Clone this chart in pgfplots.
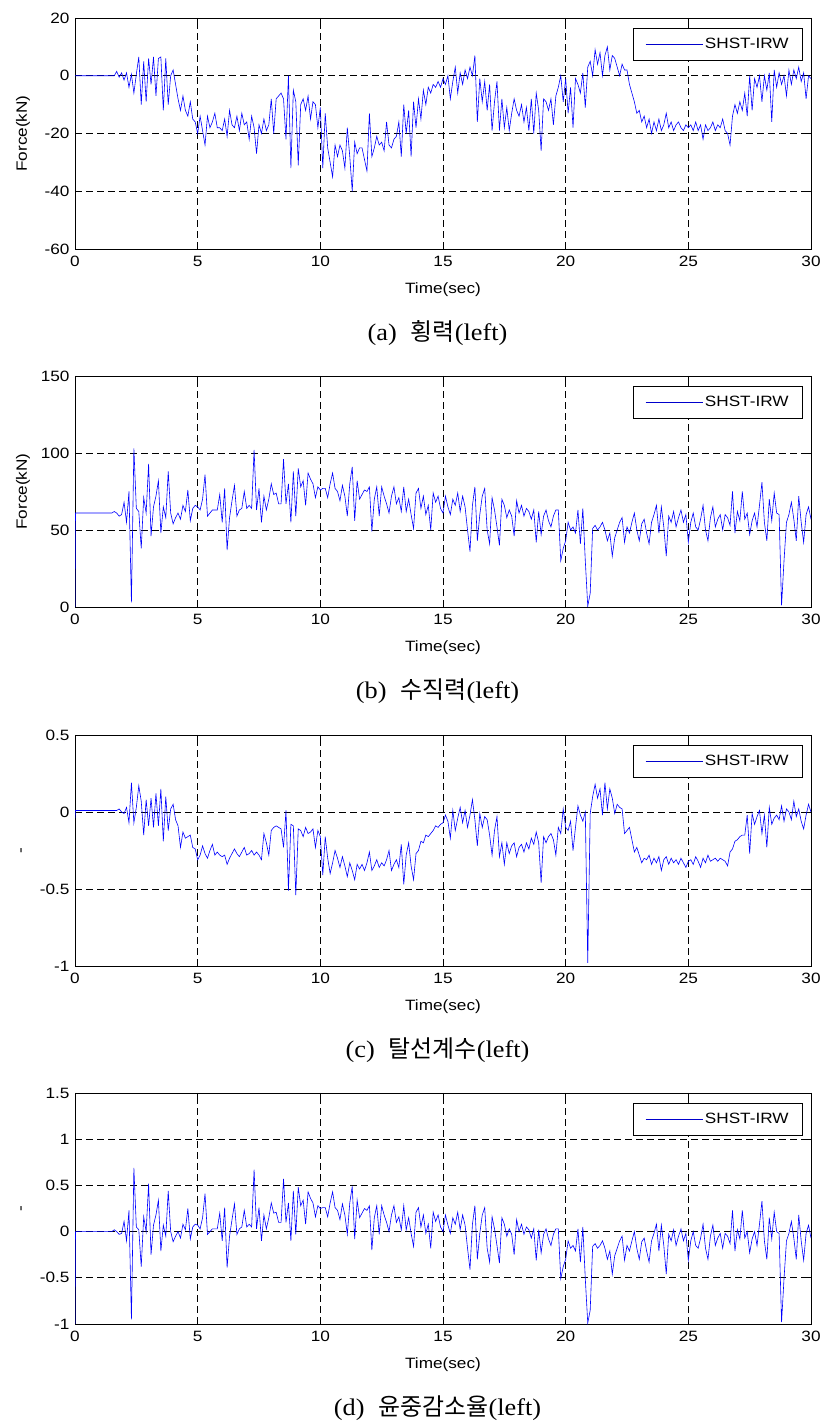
\documentclass[border=0pt]{standalone}
\usepackage{fontspec}
\setmainfont{Liberation Sans}[FakeStretch=1.15]
\newfontfamily\capserif{Liberation Serif}[FakeStretch=1.1]
\newfontfamily\kr{Noto Sans CJK KR}
\usepackage{pgfplots}
\usepackage{pgfplotstable}
\pgfplotsset{compat=1.18}

\pgfplotstableread{
t a b c d
0 0 0 -0.04 -1
0.02 0 61 0.01 0
0.1 0 61 0.01 0
0.2 0 61 0.01 0
0.3 0 61 0.01 0
0.4 0 61 0.01 0
0.5 0 61 0.01 0
0.6 0 61 0.01 0
0.7 0 61 0.01 0
0.8 0 61 0.01 0
0.9 0 61 0.01 0
1.0 0 61 0.01 0
1.1 0 61 0.01 0
1.2 0 61 0.01 0
1.3 0 61 0.01 0
1.4 0 61 0.01 0
1.5 0 61 0.01 0
1.6 0 62 0.01 0.02
1.7 1.5 61 0.01 0
1.8 -0.5 59 0.02 -0.03
1.9 1 60 0 -0.02
2.0 -1.5 68 -0.01 0.11
2.1 1 55 0.03 -0.1
2.2 -4 75 -0.07 0.23
2.3 0.5 3 0.19 -0.95
2.4 -6 103 -0.07 0.69
2.5 0.5 64 0.03 0.05
2.6 6.5 62 0.17 0.02
2.7 -10 38 0.07 -0.38
2.8 5 71 -0.15 0.16
2.9 -9 61 0.08 0
3.0 6 93 -0.09 0.52
3.1 -3 46 0.09 -0.25
3.2 6.5 65 -0.1 0.07
3.3 -7 72 0.12 0.18
3.4 6 82 -0.09 0.34
3.5 6.5 48 0.15 -0.21
3.6 -12 65 -0.19 0.07
3.7 6 58 0.1 -0.05
3.8 -10 88 -0.12 0.44
3.9 0 61 0.02 0
4.0 2 54 0.05 -0.11
4.1 -3 58 -0.05 -0.05
4.2 -8 61 -0.09 0
4.3 -12 57 -0.23 -0.07
4.4 -7 66 -0.13 0.08
4.5 -12 62 -0.17 0.02
4.6 -14 76 -0.16 0.25
4.7 -9 56 -0.15 -0.08
4.8 -15 64 -0.23 0.05
4.9 -16 66 -0.24 0.08
5.0 -20 65 -0.31 0.07
5.1 -14 63 -0.28 0.03
5.2 -19 70 -0.22 0.15
5.3 -24 86 -0.27 0.41
5.4 -14 59 -0.3 -0.03
5.5 -18 61 -0.25 0
5.6 -16 63 -0.21 0.03
5.7 -13 63 -0.28 0.03
5.8 -18 63 -0.26 0.03
5.9 -18 73 -0.28 0.2
6.0 -19 55 -0.29 -0.1
6.1 -15 77 -0.28 0.26
6.2 -21 37 -0.34 -0.39
6.3 -12 58 -0.3 -0.05
6.4 -17 69 -0.27 0.13
6.5 -18 79 -0.24 0.3
6.6 -14 59 -0.27 -0.03
6.7 -19 63 -0.29 0.03
6.8 -13 64 -0.26 0.05
6.9 -17 75 -0.23 0.23
7.0 -16 64 -0.28 0.05
7.1 -22 66 -0.27 0.08
7.2 -14 64 -0.25 0.05
7.3 -18 102 -0.28 0.67
7.4 -27 63 -0.26 0.03
7.5 -17 77 -0.28 0.26
7.6 -20 55 -0.31 -0.1
7.7 -15 72 -0.14 0.18
7.8 -19 63 -0.2 0.03
7.9 -17 70 -0.28 0.15
8.0 -8 80 -0.12 0.31
8.1 -20 73 -0.1 0.2
8.2 -8 74 -0.09 0.21
8.3 -7 67 -0.1 0.1
8.4 -6 67 -0.11 0.1
8.5 -8 96 -0.23 0.57
8.6 -22 67 0.01 0.1
8.7 0 80 -0.51 0.31
8.8 -32 55 -0.08 -0.1
8.9 -5 88 -0.09 0.44
9.0 -9 59 -0.54 -0.03
9.1 -31 90 -0.11 0.48
9.2 -10 78 -0.12 0.28
9.3 -8 82 -0.16 0.34
9.4 -12 66 -0.1 0.08
9.5 -7 87 -0.14 0.43
9.6 -15 83 -0.13 0.36
9.7 -9 80 -0.11 0.31
9.8 -10 71 -0.23 0.16
9.9 -18 78 -0.12 0.28
10.0 -11 76 -0.16 0.25
10.1 -32 77 -0.41 0.26
10.2 -13 77 -0.16 0.26
10.3 -25 71 -0.3 0.16
10.4 -30 80 -0.4 0.31
10.5 -35 87 -0.33 0.43
10.6 -24 77 -0.25 0.26
10.7 -28 75 -0.3 0.23
10.8 -24 69 -0.36 0.13
10.9 -26 79 -0.29 0.3
11.0 -32 72 -0.35 0.18
11.1 -18 59 -0.42 -0.03
11.2 -28 80 -0.33 0.31
11.3 -40 91 -0.38 0.49
11.4 -23 56 -0.44 -0.08
11.5 -27 82 -0.34 0.34
11.6 -25 70 -0.37 0.15
11.7 -25 73 -0.34 0.2
11.8 -29 76 -0.38 0.25
11.9 -33 75 -0.33 0.23
12.0 -13 78 -0.26 0.28
12.1 -28 49 -0.38 -0.2
12.2 -25 70 -0.35 0.15
12.3 -21 78 -0.31 0.28
12.4 -24 59 -0.36 -0.03
12.5 -23 78 -0.33 0.28
12.6 -26 72 -0.35 0.18
12.7 -16 67 -0.31 0.1
12.8 -24 61 -0.25 0
12.9 -25 72 -0.38 0.18
13.0 -22 78 -0.34 0.28
13.1 -21 67 -0.31 0.1
13.2 -16 71 -0.36 0.16
13.3 -28 62 -0.21 0.02
13.4 -10 78 -0.47 0.28
13.5 -20 62 -0.28 0.02
13.6 -12 70 -0.2 0.15
13.7 -28 60 -0.35 -0.02
13.8 -9 51 -0.44 -0.16
13.9 -18 74 -0.27 0.21
14.0 -8 77 -0.25 0.26
14.1 -15 64 -0.19 0.05
14.2 -5 72 -0.2 0.18
14.3 -10 60 -0.15 -0.02
14.4 -4 66 -0.16 0.08
14.5 -6 50 -0.14 -0.18
14.6 -3 74 -0.12 0.21
14.7 -4 68 -0.09 0.11
14.8 -2 72 -0.1 0.18
14.9 -4 64 -0.08 0.05
15.0 -1 61 -0.07 0
15.1 -3 72 -0.02 0.18
15.2 0 65 -0.06 0.07
15.3 -8 60 -0.17 -0.02
15.4 -2 70 0.01 0.15
15.5 3 66 -0.12 0.08
15.6 -6 74 -0.04 0.21
15.7 1 62 0.03 0.02
15.8 -3 72 -0.07 0.18
15.9 2 65 0.01 0.07
16.0 -1 50 -0.1 -0.18
16.1 3 36 -0.02 -0.41
16.2 0 66 0.08 0.08
16.3 7 78 -0.05 0.28
16.4 -16 43 -0.22 -0.3
16.5 -1 60 -0.01 -0.02
16.6 -9 72 -0.1 0.18
16.7 -2 77 -0.03 0.26
16.8 -12 50 -0.05 -0.18
16.9 -3 41 -0.15 -0.33
17.0 -19 71 -0.28 0.16
17.1 -9 63 -0.12 0.03
17.2 -2 52 -0.03 -0.15
17.3 -19 40 -0.29 -0.34
17.4 -8 70 -0.2 0.15
17.5 -18 66 -0.34 0.08
17.6 -11 58 -0.2 -0.05
17.7 -19 63 -0.27 0.03
17.8 -13 59 -0.22 -0.03
17.9 -8 46 -0.2 -0.25
18.0 -12 69 -0.29 0.13
18.1 -14 61 -0.23 0
18.2 -10 66 -0.21 0.08
18.3 -16 59 -0.26 -0.03
18.4 -11 64 -0.2 0.05
18.5 -19 62 -0.24 0.02
18.6 -8 57 -0.17 -0.07
18.7 -20 63 -0.21 0.03
18.8 -6 42 -0.13 -0.31
18.9 -12 62 -0.2 0.02
19.0 -26 47 -0.46 -0.23
19.1 -8 59 -0.16 -0.03
19.2 -9 63 -0.2 0.03
19.3 -12 56 -0.16 -0.08
19.4 -8 52 -0.14 -0.15
19.5 -17 59 -0.18 -0.03
19.6 -7 63 -0.28 0.03
19.7 -4 63 -0.1 0.03
19.8 0 30 -0.14 -0.51
19.9 -9 38 0.02 -0.38
20.0 -1 43 -0.1 -0.3
20.1 -13 55 -0.12 -0.1
20.2 -4 50 -0.06 -0.18
20.3 -18 52 -0.25 -0.15
20.4 -1 48 -0.1 -0.21
20.5 -3 63 0.04 0.03
20.6 -6 41 -0.02 -0.33
20.7 1 64 -0.06 0.05
20.8 -11 30 0 -0.51
20.9 3 0.5 -0.98 -0.99
21.0 5 9 -0.01 -0.85
21.1 0 51 0.1 -0.16
21.2 9 53 0.18 -0.13
21.3 4 50 0.09 -0.18
21.4 8 52 0.15 -0.15
21.5 0 55 -0.02 -0.1
21.6 7 50 0.19 -0.18
21.7 10 43 0.02 -0.3
21.8 2 48 0.15 -0.21
21.9 7 33 0.09 -0.46
22.0 6 45 -0.01 -0.26
22.1 3 50 0.05 -0.18
22.2 0 55 0.03 -0.1
22.3 4 58 0.02 -0.05
22.4 2 42 -0.14 -0.31
22.5 2 52 -0.12 -0.15
22.6 -3 48 -0.1 -0.21
22.7 -6 55 -0.18 -0.1
22.8 -9 61 -0.26 0
22.9 -13 50 -0.23 -0.18
23.0 -12 43 -0.28 -0.3
23.1 -16 54 -0.33 -0.11
23.2 -14 57 -0.3 -0.07
23.3 -18 48 -0.31 -0.21
23.4 -15 41 -0.28 -0.33
23.5 -20 55 -0.34 -0.1
23.6 -16 60 -0.3 -0.02
23.7 -19 66 -0.33 0.08
23.8 -15 48 -0.29 -0.21
23.9 -19 65 -0.38 0.07
24.0 -17 52 -0.31 -0.15
24.1 -13 33 -0.29 -0.46
24.2 -18 59 -0.34 -0.03
24.3 -16 55 -0.3 -0.1
24.4 -19 62 -0.33 0.02
24.5 -17 52 -0.31 -0.15
24.6 -16 58 -0.34 -0.05
24.7 -18 63 -0.3 0.03
24.8 -19 55 -0.33 -0.1
24.9 -17 60 -0.36 -0.02
25.0 -18 42 -0.32 -0.31
25.1 -17 55 -0.31 -0.1
25.2 -19 61 -0.34 0
25.3 -16 52 -0.29 -0.15
25.4 -19 50 -0.32 -0.18
25.5 -17 57 -0.36 -0.07
25.6 -22 66 -0.3 0.08
25.7 -17 50 -0.33 -0.18
25.8 -19 43 -0.28 -0.3
25.9 -18 58 -0.32 -0.05
26.0 -16 65 -0.31 0.07
26.1 -19 52 -0.3 -0.15
26.2 -17 57 -0.32 -0.07
26.3 -18 60 -0.3 -0.02
26.4 -15 50 -0.31 -0.18
26.5 -19 60 -0.32 -0.02
26.6 -20 58 -0.35 -0.05
26.7 -24 53 -0.26 -0.13
26.8 -14 75 -0.24 0.23
26.9 -10 48 -0.19 -0.21
27.0 -13 62 -0.18 0.02
27.1 -9 56 -0.16 -0.08
27.2 -12 75 -0.15 0.23
27.3 -6 57 -0.15 -0.07
27.4 -14 61 -0.02 0
27.5 0 47 -0.27 -0.23
27.6 -12 56 -0.01 -0.08
27.7 -1 61 -0.08 0
27.8 -4 52 -0.03 -0.15
27.9 0 66 0.01 0.08
28.0 -9 81 -0.14 0.33
28.1 0 55 -0.02 -0.1
28.2 -5 43 -0.23 -0.3
28.3 1 70 0.03 0.15
28.4 -16 56 -0.08 -0.08
28.5 2 74 -0.04 0.21
28.6 -4 61 -0.02 0
28.7 1 60 -0.05 -0.02
28.8 -3 1 0.04 -0.98
28.9 0 30 -0.06 -0.51
29.0 -7 55 0.02 -0.1
29.1 2 60 0 -0.02
29.2 -3 68 -0.05 0.11
29.3 2 57 0.07 -0.07
29.4 -1 43 -0.03 -0.3
29.5 3 72 0.02 0.18
29.6 -2 55 -0.06 -0.1
29.7 1 42 -0.11 -0.31
29.8 -8 60 -0.02 -0.02
29.9 0 65 0.05 0.07
30.0 -1 57 0 -0.07
}\data

\pgfplotsset{
  panel/.style={
    scale only axis, width=736bp, height=231bp,
    xmin=0, xmax=30, xtick={0,5,...,30},
    grid=major,
    major grid style={black, dash pattern=on 7bp off 4bp, line width=0.6bp},
    axis line style={black, line width=0.8bp},
    tick style={black, line width=0.6bp}, major tick length=4bp,
    tick align=inside,
    ticklabel style={font=\fontsize{15}{17}\selectfont},
    xticklabel style={yshift=-4bp},
    yticklabel style={xshift=-2bp},
    /pgf/number format/assume math mode=true,
    xlabel={Time(sec)},
    xlabel style={font=\fontsize{15}{18}\selectfont, at={(axis description cs:0.5,-0.1775)}, anchor=center},
    ylabel style={font=\fontsize{15}{18}\selectfont, at={(axis description cs:-0.0707,0.5)}, anchor=center},
    legend style={at={(axis description cs:0.989,0.957)}, anchor=north east,
      draw=black, line width=0.6bp, fill=white, font=\fontsize{15}{18}\selectfont,
      inner xsep=12bp, inner ysep=8bp},
    legend cell align=left,
    legend image code/.code={\draw[blue!80!black, line width=0.6bp] (0bp,0bp) -- (57bp,0bp);},
  }
}

\begin{document}
\begin{tikzpicture}
\path[use as bounding box] (0,0) rectangle (829bp,1428bp);

\begin{axis}[panel, at={(75bp,1179bp)}, anchor=south west,
  ymin=-60, ymax=20, ytick={-60,-40,...,20}, ylabel={Force(kN)}]
\addplot[blue, line width=0.6bp, mark=none] table[x=t, y=a]{\data};
\addlegendentry{SHST-IRW}
\end{axis}

\begin{axis}[panel, at={(75bp,821bp)}, anchor=south west,
  ymin=0, ymax=150, ytick={0,50,...,150}, ylabel={Force(kN)}]
\addplot[blue, line width=0.6bp, mark=none] table[x=t, y=b]{\data};
\addlegendentry{SHST-IRW}
\end{axis}

\begin{axis}[panel, at={(75bp,462bp)}, anchor=south west,
  ymin=-1, ymax=0.5, ytick={-1,-0.5,0,0.5}, ylabel={-}]
\addplot[blue, line width=0.6bp, mark=none] table[x=t, y=c]{\data};
\addlegendentry{SHST-IRW}
\end{axis}

\begin{axis}[panel, at={(75bp,104bp)}, anchor=south west,
  ymin=-1, ymax=1.5, ytick={-1,-0.5,0,0.5,1,1.5}, ylabel={-}]
\addplot[blue, line width=0.6bp, mark=none] table[x=t, y=d]{\data};
\addlegendentry{SHST-IRW}
\end{axis}

\node[font=\fontsize{24}{28}\selectfont] at (437.5bp,1095bp) {{\capserif (a)}\hspace{14bp}{\kr 횡력}{\capserif (left)}};
\node[font=\fontsize{24}{28}\selectfont] at (437.5bp,737bp) {{\capserif (b)}\hspace{14bp}{\kr 수직력}{\capserif (left)}};
\node[font=\fontsize{24}{28}\selectfont] at (437.5bp,378bp) {{\capserif (c)}\hspace{14bp}{\kr 탈선계수}{\capserif (left)}};
\node[font=\fontsize{24}{28}\selectfont] at (437.5bp,20bp) {{\capserif (d)}\hspace{14bp}{\kr 윤중감소율}{\capserif (left)}};
\end{tikzpicture}
\end{document}
